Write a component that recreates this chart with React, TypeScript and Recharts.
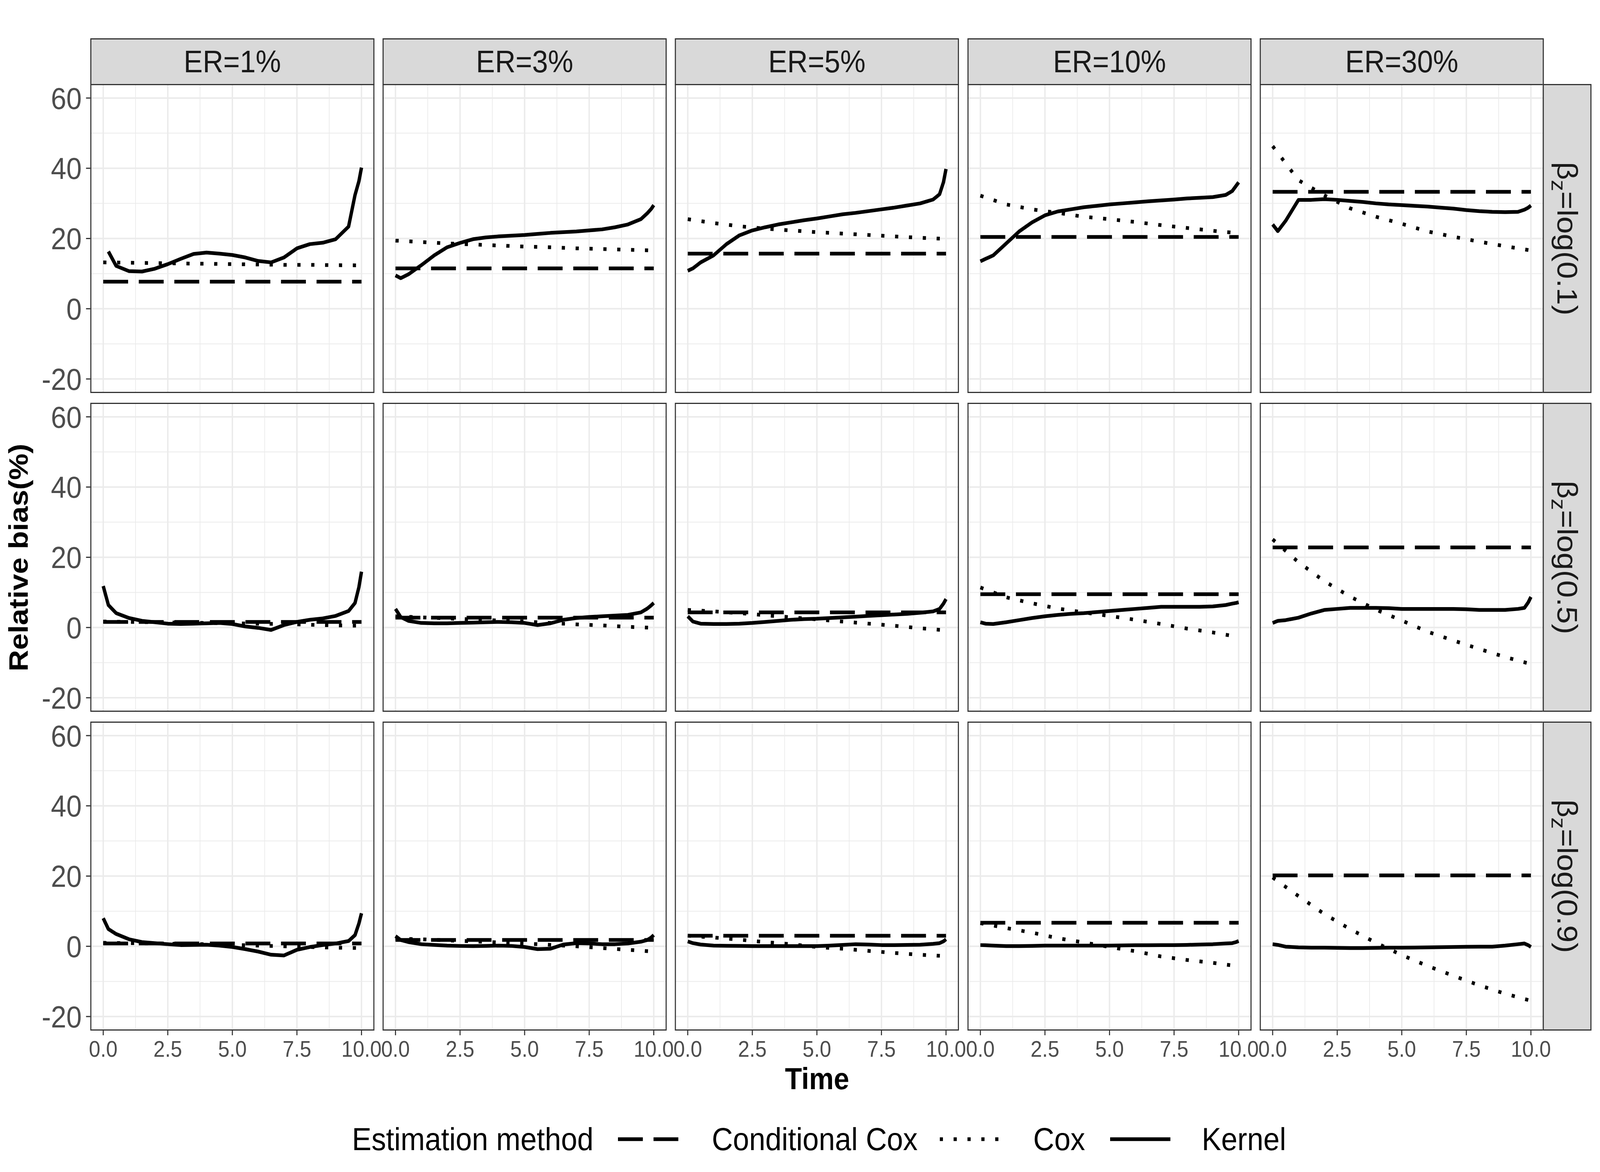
import { useEffect, useState } from "react";
import { LineChart, Line, XAxis, YAxis, CartesianGrid } from "recharts";

const FONT = '"Liberation Sans", Arial, Helvetica, sans-serif';

// facet labels
const ER_LABELS = ["ER=1%", "ER=3%", "ER=5%", "ER=10%", "ER=30%"];
const BETA_LABELS = ["0.1", "0.5", "0.9"];
const LEGEND_LABELS = ["Conditional Cox", "Cox", "Kernel"];

// axes
const X_TICKS = [0, 2.5, 5, 7.5, 10];
const X_MINOR = [1.25, 3.75, 6.25, 8.75];
const Y_TICKS = [-20, 0, 20, 40, 60];
const Y_MINOR = [-10, 10, 30, 50];

// time grids
const KERNEL_T = [0, 0.2, 0.5, 1, 1.5, 2, 2.5, 3, 3.5, 4, 4.5, 5, 5.5, 6, 6.5, 7, 7.5, 8, 8.5, 9, 9.5, 9.75, 9.9, 10];
const COX_T = [0, 1, 2, 3, 4, 5, 6, 7, 8, 9, 10];
const COND_T = [0, 10];

// Kernel estimates, one row per beta_z, one array per ER
const KERNEL_B01 = [
    [null, 16.3, 12.2, 10.7, 10.6, 11.4, 12.7, 14.2, 15.6, 16.0, 15.7, 15.3, 14.6, 13.6, 13.2, 14.6, 17.2, 18.4, 18.8, 19.8, 23.4, 32.4, 36.3, 40.2],
    [9.5, 8.7, 9.8, 12.4, 15.2, 17.5, 18.75, 19.8, 20.3, 20.6, 20.8, 21.0, 21.3, 21.6, 21.8, 22.0, 22.3, 22.6, 23.2, 24.0, 25.5, 27.2, 28.4, 29.5],
    [10.8, 11.5, 13.2, 15.2, 18.4, 20.9, 22.3, 23.2, 24.0, 24.6, 25.2, 25.7, 26.3, 26.9, 27.3, 27.8, 28.3, 28.8, 29.4, 30.0, 31.1, 32.6, 36.0, 39.8],
    [13.5, 14.2, 15.2, 18.6, 22.0, 24.6, 26.6, 27.7, 28.3, 28.9, 29.3, 29.7, 30.0, 30.3, 30.6, 30.85, 31.1, 31.4, 31.6, 31.8, 32.4, 33.5, 35.0, 36.0],
    [24.0, 22.1, 25.0, 31.0, 31.0, 31.2, 31.0, 30.7, 30.4, 30.0, 29.7, 29.5, 29.3, 29.1, 28.8, 28.5, 28.1, 27.8, 27.6, 27.5, 27.6, 28.2, 28.8, 29.4],
];
const KERNEL_B05 = [
    [11.8, 6.4, 4.1, 2.7, 1.9, 1.5, 1.1, 1.0, 1.1, 1.2, 1.3, 1.0, 0.3, -0.1, -0.7, 0.7, 1.6, 2.2, 2.6, 3.3, 4.7, 7.0, 11.5, 15.9],
    [5.3, 3.0, 1.9, 1.3, 1.2, 1.2, 1.3, 1.4, 1.5, 1.6, 1.5, 1.3, 0.7, 1.2, 2.2, 2.7, 3.0, 3.2, 3.4, 3.6, 4.3, 5.4, 6.3, 7.0],
    [3.2, 1.7, 1.1, 1.0, 1.0, 1.1, 1.3, 1.6, 1.9, 2.2, 2.4, 2.5, 2.7, 2.9, 3.1, 3.3, 3.5, 3.7, 3.9, 4.2, 4.6, 5.3, 6.8, 8.1],
    [1.5, 1.1, 1.0, 1.5, 2.1, 2.7, 3.2, 3.6, 3.9, 4.1, 4.4, 4.7, 5.0, 5.3, 5.6, 5.9, 5.9, 5.9, 5.9, 6.0, 6.4, 6.8, 7.0, 7.2],
    [1.3, 1.9, 2.1, 2.8, 4.0, 5.0, 5.3, 5.6, 5.6, 5.6, 5.5, 5.3, 5.3, 5.3, 5.3, 5.3, 5.2, 5.0, 5.0, 5.0, 5.3, 5.6, 7.2, 8.7],
];
const KERNEL_B09 = [
    [8.0, 4.9, 3.5, 2.0, 1.2, 0.9, 0.6, 0.35, 0.4, 0.45, 0.2, -0.2, -0.8, -1.5, -2.4, -2.6, -1.0, -0.2, 0.35, 0.8, 1.5, 3.2, 6.5, 9.4],
    [2.9, 1.8, 1.2, 0.6, 0.4, 0.2, 0.1, 0.05, 0.1, 0.2, 0.1, -0.2, -0.8, -0.7, 0.5, 0.9, 0.8, 0.6, 0.6, 0.8, 1.3, 1.8, 2.5, 3.2],
    [1.4, 0.9, 0.5, 0.2, 0.15, 0.1, 0.05, 0.05, 0.05, 0.05, 0.05, 0.05, 0.2, 0.4, 0.6, 0.5, 0.35, 0.35, 0.4, 0.45, 0.7, 0.9, 1.4, 2.0],
    [0.35, 0.3, 0.2, 0.05, 0.05, 0.1, 0.2, 0.2, 0.2, 0.2, 0.2, 0.2, 0.25, 0.3, 0.3, 0.35, 0.35, 0.4, 0.5, 0.6, 0.8, 0.9, 1.2, 1.5],
    [0.6, 0.4, -0.1, -0.3, -0.4, -0.4, -0.45, -0.5, -0.5, -0.45, -0.4, -0.4, -0.35, -0.3, -0.25, -0.2, -0.15, -0.1, -0.1, 0.2, 0.6, 0.8, 0.3, -0.2],
];

// Cox estimates
const COX_B01 = [
    [13.2, 13.1, 13.0, 12.9, 12.8, 12.7, 12.6, 12.5, 12.5, 12.4, 12.35],
    [19.4, 19.0, 18.6, 18.3, 18.0, 17.7, 17.5, 17.2, 17.0, 16.8, 16.6],
    [25.5, 24.4, 23.5, 22.8, 22.3, 21.8, 21.4, 21.0, 20.6, 20.2, 19.9],
    [32.2, 29.7, 28.3, 27.3, 26.2, 25.5, 24.7, 23.8, 23.0, 22.2, 21.5],
    [46.3, 36.6, 32.3, 28.6, 26.2, 24.2, 22.0, 20.5, 19.1, 17.8, 16.6],
];
const COX_B05 = [
    [1.7, 1.6, 1.5, 1.4, 1.3, 1.2, 1.1, 1.0, 0.8, 0.6, 0.5],
    [3.2, 2.9, 2.6, 2.3, 2.0, 1.7, 1.3, 0.9, 0.6, 0.2, -0.1],
    [5.0, 4.6, 4.1, 3.5, 2.9, 2.3, 1.7, 1.1, 0.5, -0.2, -0.8],
    [11.4, 8.6, 6.9, 5.4, 4.3, 3.3, 2.2, 1.0, -0.3, -1.4, -2.7],
    [25.1, 18.6, 13.2, 8.8, 5.1, 2.0, -1.2, -3.7, -6.1, -8.4, -10.4],
];
const COX_B09 = [
    [1.0, 0.9, 0.8, 0.7, 0.6, 0.4, 0.2, 0.0, -0.2, -0.4, -0.5],
    [2.2, 2.0, 1.7, 1.4, 1.1, 0.8, 0.4, 0.0, -0.5, -1.0, -1.5],
    [3.0, 2.5, 1.9, 1.2, 0.6, -0.2, -0.7, -1.3, -1.9, -2.4, -2.8],
    [6.6, 5.2, 3.9, 2.3, 1.1, -0.2, -1.4, -2.9, -3.9, -4.7, -5.7],
    [19.6, 14.3, 9.2, 4.9, 1.0, -2.5, -5.6, -8.4, -11.1, -13.5, -15.5],
];

// Conditional Cox (constant over time)
const COND_B01 = [7.7, 11.5, 15.7, 20.45, 33.3];
const COND_B05 = [1.6, 2.8, 4.3, 9.5, 22.8];
const COND_B09 = [0.8, 1.8, 3.0, 6.7, 20.2];

const KERNEL = [KERNEL_B01, KERNEL_B05, KERNEL_B09];
const COX = [COX_B01, COX_B05, COX_B09];
const COND = [COND_B01, COND_B05, COND_B09];

// layout (px, in a 4500 x 3000 frame)
const FRAME_W = 4500;
const FRAME_H = 3000;
const COL_LEFT = [254, 1076, 1898, 2721, 3543];
const ROW_TOP = [215, 1031, 1847];
const PW = 799;
const PH = 791;
const STRIP_TOP = 98;
const STRIP_H = 117;
const STRIP_W = 134;
const X_AXIS_H = 110;

const LINE_W = 9.5;
const DASH = { cond: "70 30", cox: "9 30", kernel: undefined };

function series(ts: number[], vs: (number | null)[]) {
    return ts.map((t, i) => ({ t, v: vs[i] }));
}

function Panel({ r, c }: { r: number; c: number }) {
    const isLeft = c === 0;
    const isBottom = r === ROW_TOP.length - 1;
    const yW = isLeft ? COL_LEFT[0] : 0;
    const xH = isBottom ? X_AXIS_H : 0;

    const kernel = series(KERNEL_T, KERNEL[r][c]);
    const cox = series(COX_T, COX[r][c]);
    const cond = series(COND_T, COND_T.map(() => COND[r][c]));

    return (
        <div style={{ position: "absolute", left: COL_LEFT[c] - yW, top: ROW_TOP[r] }}>
            <LineChart width={PW + yW} height={PH + xH} margin={{ top: 0, right: 0, bottom: 0, left: 0 }}>
                <CartesianGrid stroke="#ebebeb" strokeWidth={2} horizontalValues={Y_MINOR} verticalValues={X_MINOR} />
                <CartesianGrid stroke="#ebebeb" strokeWidth={4} horizontalValues={Y_TICKS} verticalValues={X_TICKS} />
                <XAxis
                    dataKey="t"
                    type="number"
                    domain={[-0.5, 10.5]}
                    allowDataOverflow
                    ticks={X_TICKS}
                    interval={0}
                    hide={!isBottom}
                    height={xH}
                    axisLine={false}
                    tickSize={12}
                    tickMargin={14}
                    tickLine={{ stroke: "#333333", strokeWidth: 3 }}
                    tick={{ fill: "#4d4d4d", fontSize: 58, fontFamily: FONT }}
                    tickFormatter={(v: number) => v.toFixed(1)}
                />
                <YAxis
                    type="number"
                    domain={[-24, 64]}
                    allowDataOverflow
                    ticks={Y_TICKS}
                    interval={0}
                    hide={!isLeft}
                    width={yW}
                    axisLine={false}
                    tickSize={12}
                    tickMargin={12}
                    tickLine={{ stroke: "#333333", strokeWidth: 3 }}
                    tick={{ fill: "#4d4d4d", fontSize: 78, fontFamily: FONT }}
                />
                <Line data={cond} dataKey="v" stroke="#000" strokeWidth={LINE_W} strokeDasharray={DASH.cond} dot={false} isAnimationActive={false} />
                <Line data={cox} dataKey="v" stroke="#000" strokeWidth={LINE_W} strokeDasharray={DASH.cox} dot={false} isAnimationActive={false} />
                <Line data={kernel} dataKey="v" stroke="#000" strokeWidth={LINE_W} strokeLinejoin="round" dot={false} isAnimationActive={false} />
            </LineChart>
            <div
                style={{
                    position: "absolute", left: yW, top: 0, width: PW, height: PH,
                    border: "3px solid #333333", boxSizing: "border-box", pointerEvents: "none",
                }}
            />
        </div>
    );
}

function LegendKey({ dash }: { dash?: string }) {
    return (
        <svg width={170} height={20} style={{ display: "block" }}>
            <line x1={0} y1={10} x2={170} y2={10} stroke="#000" strokeWidth={LINE_W} strokeDasharray={dash} />
        </svg>
    );
}

export default function App() {
    // the window can be narrower than the 4500px frame, so squeeze the frame into it
    const [view, setView] = useState({ w: window.innerWidth, h: window.innerHeight });
    useEffect(() => {
        const onResize = () => setView({ w: window.innerWidth, h: window.innerHeight });
        window.addEventListener("resize", onResize);
        return () => window.removeEventListener("resize", onResize);
    }, []);
    const sx = Math.min(1, view.w / FRAME_W);
    const sy = Math.min(1, view.h / FRAME_H);

    const legendItems = [
        { label: LEGEND_LABELS[0], dash: DASH.cond, keyX: 1738, textX: 2002 },
        { label: LEGEND_LABELS[1], dash: DASH.cox, keyX: 2643, textX: 2906 },
        { label: LEGEND_LABELS[2], dash: DASH.kernel, keyX: 3122, textX: 3380 },
    ];
    const legendY = 2916;

    return (
        <div style={{ position: "fixed", left: 0, top: 0, width: FRAME_W * sx, height: FRAME_H * sy, overflow: "hidden", background: "#fff" }}>
            <div
                style={{
                    position: "absolute", left: 0, top: 0, width: FRAME_W, height: FRAME_H, background: "#fff",
                    fontFamily: FONT, transform: `scale(${sx}, ${sy})`, transformOrigin: "0 0",
                }}
            >
                <style>{`.recharts-surface{overflow:visible}`}</style>

                {ROW_TOP.map((_, r) => ER_LABELS.map((_, c) => <Panel key={`${r}-${c}`} r={r} c={c} />))}

                {ER_LABELS.map((label, c) => (
                    <div key={label} style={{ ...styles.strip, left: COL_LEFT[c], top: STRIP_TOP, width: PW, height: STRIP_H + 3 }}>
                        {label}
                    </div>
                ))}

                {BETA_LABELS.map((b, r) => (
                    <div key={b} style={{ ...styles.strip, left: COL_LEFT[4] + PW - 3, top: ROW_TOP[r], width: STRIP_W + 3, height: PH }}>
                        <span style={{ transform: "rotate(90deg)", whiteSpace: "nowrap", display: "inline-block" }}>
                            β<span style={{ fontSize: "0.72em", position: "relative", top: "0.3em" }}>z</span>=log({b})
                        </span>
                    </div>
                ))}

                <div
                    style={{
                        position: "absolute", left: 52, top: (ROW_TOP[0] + ROW_TOP[2] + PH) / 2,
                        transform: "translate(-50%, -50%) rotate(-90deg)", whiteSpace: "nowrap",
                        fontSize: 76, fontWeight: "bold", color: "#000",
                    }}
                >
                    Relative bias(%)
                </div>

                <div
                    style={{
                        position: "absolute", left: (COL_LEFT[0] + COL_LEFT[4] + PW) / 2, top: 2761,
                        transform: "translate(-50%, -50%)", fontSize: 78, fontWeight: "bold", color: "#000",
                    }}
                >
                    Time
                </div>

                <div style={{ ...styles.legendText, left: 990, top: legendY }}>Estimation method</div>
                {legendItems.map((item) => (
                    <div key={item.label}>
                        <div style={{ position: "absolute", left: item.keyX, top: legendY - 10 }}>
                            <LegendKey dash={item.dash} />
                        </div>
                        <div style={{ ...styles.legendText, left: item.textX, top: legendY }}>{item.label}</div>
                    </div>
                ))}
            </div>
        </div>
    );
}

const styles: Record<string, React.CSSProperties> = {
    strip: {
        position: "absolute", background: "#d9d9d9", border: "3px solid #333333", boxSizing: "border-box",
        display: "flex", alignItems: "center", justifyContent: "center",
        fontSize: 80, color: "#1a1a1a", lineHeight: 1,
    },
    legendText: {
        position: "absolute", transform: "translateY(-50%)", fontSize: 82, color: "#000",
        whiteSpace: "nowrap", lineHeight: 1,
    },
};
